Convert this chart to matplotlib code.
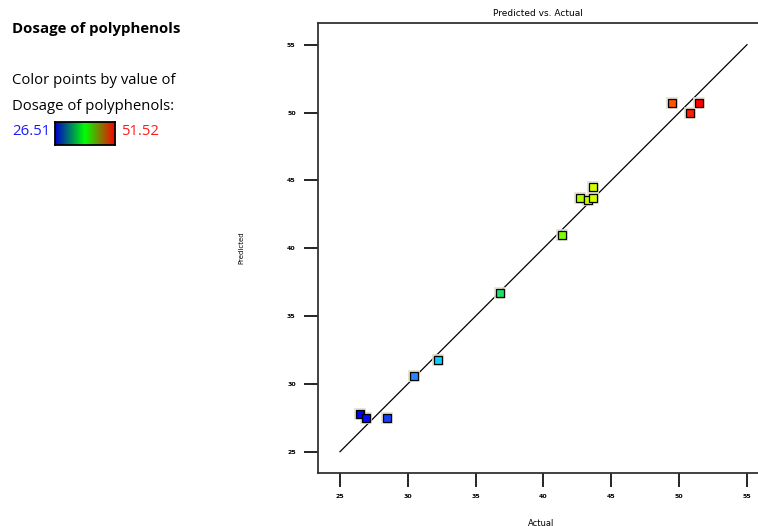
import matplotlib
matplotlib.use("Agg")
import matplotlib.pyplot as plt
import numpy as np
from matplotlib.colors import LinearSegmentedColormap

# Data
actual = [26.50, 26.92, 28.44, 30.43, 32.20, 36.79, 41.38, 42.69, 43.25, 43.67, 43.64, 49.49, 50.77, 51.49]
predicted = [27.76, 27.48, 27.48, 30.60, 31.78, 36.69, 40.97, 43.67, 43.55, 43.67, 44.53, 50.70, 49.98, 50.70]
ticks = [25, 30, 35, 40, 45, 50, 55]
vmin, vmax = 26.51, 51.52

W, H = 758, 526
fig = plt.figure(figsize=(W / 100, H / 100), dpi=100)

left, right, bottom, top = 318, 758, 473, 22.7
ax = fig.add_axes([left / W, 1 - bottom / H, (right - left) / W, (bottom - top) / H])
ax.set_xlim(23.38, 55.81)
ax.set_ylim(23.43, 56.62)

# point colormap (rainbow-like)
pt_cmap = LinearSegmentedColormap.from_list(
    "pts",
    [(0.0, "#0000ff"), (0.15, "#2a7fff"), (0.25, "#00e8ff"), (0.42, "#20e060"),
     (0.6, "#80ff00"), (0.7, "#e0ff00"), (0.9, "#ff6a00"), (1.0, "#ff0000")])

# 1:1 line
ax.plot([25, 55], [25, 55], color="black", lw=0.9, zorder=2)

for xa, yp in zip(actual, predicted):
    c = pt_cmap((xa - vmin) / (vmax - vmin))
    ax.plot(xa, yp, marker="s", ms=7.6, mfc="none", mec="#e4ddd0", mew=1.2, ls="none", zorder=3)
    ax.plot(xa, yp, marker="s", ms=6.4, mfc=c, mec="black", mew=0.9, ls="none", zorder=4)

ax.spines["right"].set_visible(False)
for s in ["left", "bottom", "top"]:
    ax.spines[s].set_linewidth(1.3)
    ax.spines[s].set_color("#333333")
ax.set_xticks(ticks)
ax.set_yticks(ticks)
ax.set_xticklabels([str(t) for t in ticks])
ax.set_yticklabels([str(t) for t in ticks])
ax.tick_params(axis="both", direction="out", length=10, width=1.2, labelsize=4.5)
ax.tick_params(axis="x", pad=5)
ax.tick_params(axis="y", pad=6)
for lab in ax.get_xticklabels() + ax.get_yticklabels():
    lab.set_fontweight("bold")

ax.set_title("Predicted vs. Actual", fontsize=6.5, pad=5)
fig.text(541 / W, 1 - 523 / H, "Actual", fontsize=6, ha="center", va="center")
fig.text(241 / W, 1 - 248 / H, "Predicted", fontsize=5, ha="center", va="center", rotation=90)

# Legend panel
fam = ["Open Sans", "DejaVu Sans"]
fig.text(12 / W, 1 - 29 / H, "Dosage of polyphenols", fontsize=10.8, fontweight="bold",
         family=fam, ha="left", va="center")
fig.text(12 / W, 1 - 80 / H, "Color points by value of", fontsize=10.7, family=fam,
         ha="left", va="center")
fig.text(12 / W, 1 - 107 / H, "Dosage of polyphenols:", fontsize=10.7, family=fam,
         ha="left", va="center")
fig.text(12 / W, 1 - 132 / H, f"{vmin:.2f}", fontsize=10.7, family=fam, color="#1a1aff",
         ha="left", va="center")
fig.text(121 / W, 1 - 132 / H, f"{vmax:.2f}", fontsize=10.7, family=fam, color="#ff1a1a",
         ha="left", va="center")

bar_cmap = LinearSegmentedColormap.from_list("bar", ["#0000cc", "#00ff00", "#ff0000"])
cax = fig.add_axes([55 / W, 1 - 145 / H, 60 / W, 23 / H])
cax.imshow(np.linspace(0, 1, 200)[None, :], aspect="auto", cmap=bar_cmap, extent=[0, 1, 0, 1])
cax.set_xticks([])
cax.set_yticks([])
for s in cax.spines.values():
    s.set_linewidth(1.3)
    s.set_color("black")

fig.savefig("out.png", dpi=100)
